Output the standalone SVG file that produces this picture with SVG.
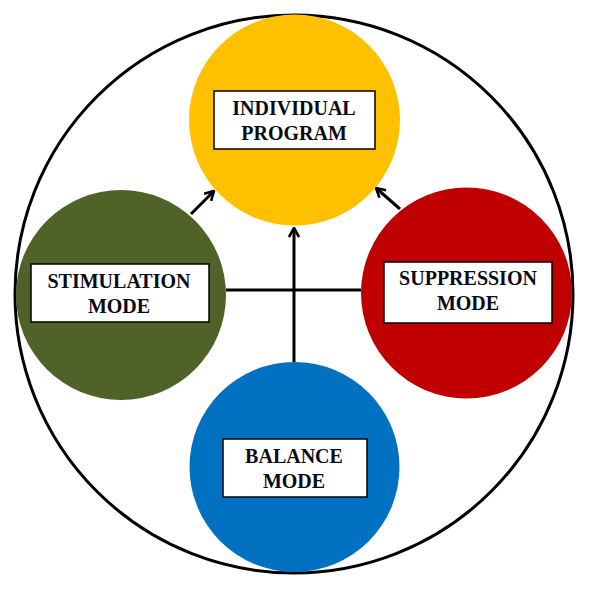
<svg xmlns="http://www.w3.org/2000/svg" width="590" height="590" viewBox="0 0 590 590">
  <style>
    .conn { stroke: #000; stroke-width: 3; fill: none; }
    .node circle { stroke: none; }
    .box { fill: #fff; stroke: #000; stroke-width: 1.5; }
    .lbl { font-family: "Liberation Serif", "Times New Roman", serif; font-weight: bold; font-size: 20px; fill: #0a0a14; text-anchor: middle; }
  </style>
  <defs>
    <marker id="arr" viewBox="0 0 12 12" refX="11" refY="6" markerWidth="12" markerHeight="12" markerUnits="userSpaceOnUse" orient="auto">
      <path d="M2,1 L11,6 L2,11" fill="none" stroke="#000" stroke-width="2.6"/>
    </marker>
  </defs>
  <rect width="590" height="590" fill="#fff"/>
  <circle id="outer" cx="294" cy="294" r="279" fill="none" stroke="#000" stroke-width="3"/>
  <g id="connectors">
    <line class="conn" x1="226" y1="290" x2="361" y2="290"/>
    <line class="conn" x1="294" y1="362" x2="294" y2="228" marker-end="url(#arr)"/>
    <line class="conn" x1="191" y1="214" x2="214" y2="191" marker-end="url(#arr)"/>
    <line class="conn" x1="400" y1="209" x2="376" y2="188" marker-end="url(#arr)"/>
  </g>
  <g id="individual-program" class="node">
    <circle cx="294.5" cy="120" r="105.5" fill="#FFC000"/>
    <rect class="box" x="214" y="91" width="161" height="58"/>
    <text class="lbl" x="294" y="115">INDIVIDUAL</text>
    <text class="lbl" x="294" y="140">PROGRAM</text>
  </g>
  <g id="stimulation-mode" class="node">
    <circle cx="121" cy="295" r="105" fill="#4F6228"/>
    <rect class="box" x="31" y="264" width="178" height="58"/>
    <text class="lbl" x="119" y="288">STIMULATION</text>
    <text class="lbl" x="119" y="313">MODE</text>
  </g>
  <g id="suppression-mode" class="node">
    <circle cx="466.5" cy="293" r="105.5" fill="#C00000"/>
    <rect class="box" x="384" y="262" width="168" height="61"/>
    <text class="lbl" x="468" y="285">SUPPRESSION</text>
    <text class="lbl" x="468" y="310">MODE</text>
  </g>
  <g id="balance-mode" class="node">
    <circle cx="294.5" cy="467" r="105" fill="#0070C0"/>
    <rect class="box" x="223" y="439" width="144" height="58"/>
    <text class="lbl" x="294" y="463">BALANCE</text>
    <text class="lbl" x="294" y="488">MODE</text>
  </g>
</svg>
